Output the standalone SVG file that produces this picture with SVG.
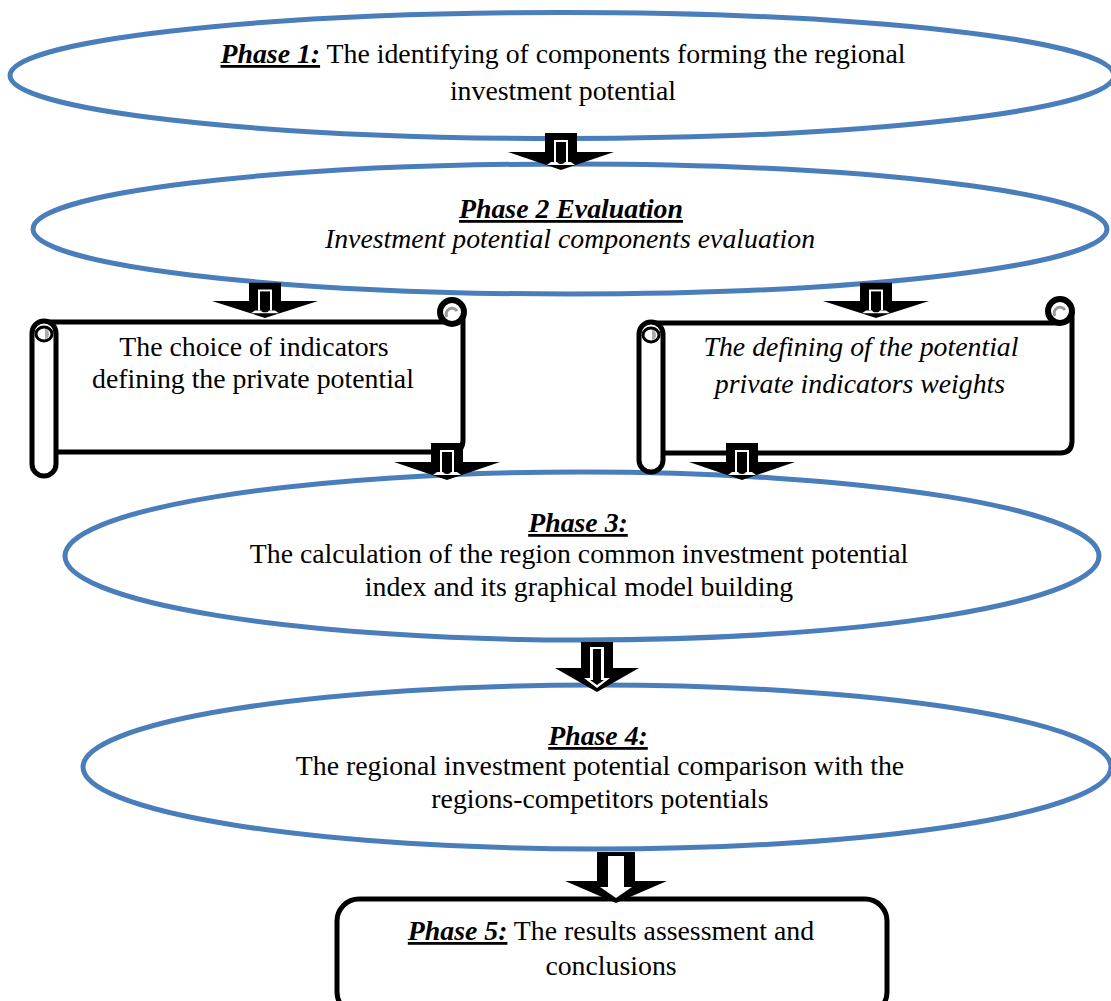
<svg xmlns="http://www.w3.org/2000/svg" xmlns:xlink="http://www.w3.org/1999/xlink" width="1111" height="1001" viewBox="0 0 1111 1001">
<style>
.ell{fill:#fff;stroke:#4a7ebb;stroke-width:5}
.blk{fill:none;stroke:#000;stroke-width:5;stroke-linejoin:round}
.body{fill:#fff;stroke:none}
.t{font-family:"Liberation Serif","Times New Roman",serif;font-size:27.8px;fill:#000;text-anchor:middle}
.ph{font-weight:bold;font-style:italic;text-decoration:underline}
.it{font-style:italic}
</style>
<defs>
<g id="arrA">
<polygon points="-16,-37 16,-37 16,-18 53,-18 0,0 -53,-18 -16,-18" fill="#000"/>
<rect x="-7" y="-30" width="14" height="22" fill="#fff"/>
<rect x="-5" y="-28" width="10" height="20" fill="#000"/>
<polygon points="-10,-8 10,-8 14,-5 -14,-5" fill="#fff"/>
<ellipse cx="0" cy="-9" rx="4" ry="3" fill="#000"/>
</g>
<g id="arrB">
<polygon points="-16,-50 16,-50 16,-24 42,-24 0,0 -42,-24 -16,-24" fill="#000"/>
<polygon points="-7,-45 7,-45 7,-14 13,-14 0,-4 -13,-14 -7,-14" fill="#fff"/>
<polygon points="-4,-43 4,-43 4,-12 7,-12 0,-7 -7,-12 -4,-12" fill="#000"/>
</g>
<g id="arrC">
<polygon points="-19,-51 19,-51 19,-22 51,-22 0,0 -51,-22 -19,-22" fill="#000"/>
<polygon points="-8,-47 8,-47 8,-16 16,-16 0,-5 -16,-16 -8,-16" fill="#fff"/>
</g>
</defs>

<g id="phase1">
<ellipse class="ell" cx="562" cy="75.5" rx="552" ry="63"/>
<text class="t" x="563" y="63"><tspan class="ph">Phase 1:</tspan> The identifying of components forming the regional</text>
<text class="t" x="563" y="100">investment potential</text>
</g>

<g id="phase2">
<ellipse class="ell" cx="570" cy="229" rx="537" ry="65"/>
<text class="t" x="571" y="218"><tspan class="ph">Phase 2 Evaluation</tspan></text>
<text class="t it" x="570" y="248">Investment potential components evaluation</text>
</g>

<g id="phase3">
<ellipse class="ell" cx="582" cy="556" rx="517" ry="84"/>
<text class="t" x="578" y="532"><tspan class="ph">Phase 3:</tspan></text>
<text class="t" x="579" y="563">The calculation of the region common investment potential</text>
<text class="t" x="579" y="596">index and its graphical model building</text>
</g>

<g id="phase4">
<ellipse class="ell" cx="597" cy="767" rx="514" ry="82"/>
<text class="t" x="598" y="745"><tspan class="ph">Phase 4:</tspan></text>
<text class="t" x="600" y="775">The regional investment potential comparison with the</text>
<text class="t" x="600" y="808">regions-competitors potentials</text>
</g>

<g id="scroll1">
<rect class="body" x="44" y="322" width="419" height="130"/>
<path class="blk" d="M44 322 H452 M463 313 V440 Q463 452 451 452 H56"/>
<circle cx="452" cy="312" r="12" fill="#fff" stroke="#000" stroke-width="6"/>
<path d="M447 317 A5 5 0 1 1 457 311" fill="none" stroke="#999" stroke-width="3"/>
<rect x="32" y="321" width="24" height="155" rx="12" fill="#fff" stroke="#000" stroke-width="5"/>
<ellipse cx="44" cy="334" rx="8" ry="7" fill="#fff" stroke="#000" stroke-width="3"/>
<path d="M45 329 A4 5 0 0 1 45 339 Z" fill="#aaa"/>
<text class="t" x="254" y="356">The choice of indicators</text>
<text class="t" x="253" y="388">defining the private potential</text>
</g>

<g id="scroll2">
<rect class="body" x="651" y="323" width="421" height="130"/>
<path class="blk" d="M651 323 H1060 M1072 312 V441 Q1072 453 1060 453 H663"/>
<circle cx="1060" cy="311" r="12" fill="#fff" stroke="#000" stroke-width="6"/>
<path d="M1055 316 A5 5 0 1 1 1065 310" fill="none" stroke="#999" stroke-width="3"/>
<rect x="639" y="322" width="24" height="150" rx="12" fill="#fff" stroke="#000" stroke-width="5"/>
<ellipse cx="651" cy="335" rx="8" ry="7" fill="#fff" stroke="#000" stroke-width="3"/>
<path d="M652 330 A4 5 0 0 1 652 340 Z" fill="#aaa"/>
<text class="t it" x="861" y="356">The defining of the potential</text>
<text class="t it" x="860" y="393">private indicators weights</text>
</g>

<g id="phase5">
<rect x="337" y="899" width="550" height="115" rx="22" fill="#fff" stroke="#000" stroke-width="5"/>
<text class="t" x="611" y="940"><tspan class="ph">Phase 5:</tspan> The results assessment and</text>
<text class="t" x="611" y="975">conclusions</text>
</g>

<g id="connectors">
<use xlink:href="#arrA" transform="translate(561,170)"/>
<use xlink:href="#arrA" transform="translate(265,318) scale(1,0.95)"/>
<use xlink:href="#arrA" transform="translate(876,318) scale(1,0.95)"/>
<use xlink:href="#arrA" transform="translate(447,480)"/>
<use xlink:href="#arrA" transform="translate(742,480)"/>
<use xlink:href="#arrB" transform="translate(597,692)"/>
<use xlink:href="#arrC" transform="translate(616,903)"/>
</g>
</svg>
